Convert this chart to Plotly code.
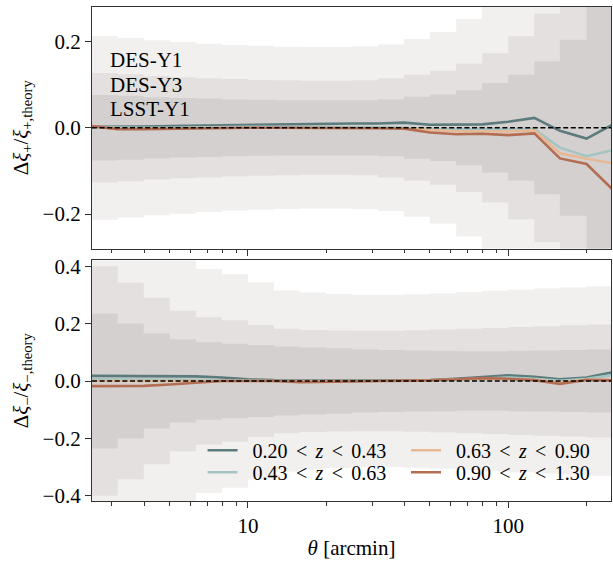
import plotly.graph_objects as go

# angular bin edges / points [arcmin]
theta = [2.51, 3.16, 3.98, 5.01, 6.31, 7.94, 10.0, 12.6, 15.8, 20.0, 25.1,
         31.6, 39.8, 50.1, 63.1, 79.4, 100.0, 126.0, 158.0, 200.0, 251.0]

# half-widths of the error bands per angular bin (20 bins) - xi_plus
des_y1_plus = [0.213, 0.208, 0.203, 0.199, 0.195, 0.192, 0.190, 0.188, 0.187, 0.187,
               0.189, 0.193, 0.206, 0.222, 0.252, 0.30, 0.36, 0.45, 0.55, 0.70]
des_y3_plus = [0.127, 0.124, 0.120, 0.117, 0.115, 0.113, 0.111, 0.110, 0.109, 0.109,
               0.110, 0.115, 0.123, 0.132, 0.149, 0.173, 0.212, 0.265, 0.32, 0.42]
lsst_y1_plus = [0.076, 0.074, 0.071, 0.069, 0.068, 0.066, 0.065, 0.064, 0.064, 0.064,
                0.064, 0.066, 0.072, 0.077, 0.087, 0.104, 0.123, 0.154, 0.204, 0.30]

# xi_minus
des_y1_minus = [0.60, 0.52, 0.47, 0.43, 0.39, 0.372, 0.343, 0.315, 0.308, 0.303,
                0.300, 0.300, 0.302, 0.305, 0.310, 0.314, 0.318, 0.322, 0.326, 0.330]
des_y3_minus = [0.40, 0.342, 0.29, 0.245, 0.222, 0.212, 0.195, 0.182, 0.178, 0.176,
                0.175, 0.175, 0.177, 0.179, 0.182, 0.185, 0.188, 0.191, 0.194, 0.197]
lsst_y1_minus = [0.235, 0.20, 0.166, 0.145, 0.135, 0.130, 0.125, 0.120, 0.117, 0.114,
                 0.111, 0.108, 0.106, 0.105, 0.104, 0.104, 0.105, 0.106, 0.108, 0.110]

# fractional residuals, xi_plus
xp_z1 = [0.002, 0.002, 0.003, 0.004, 0.005, 0.006, 0.007, 0.008, 0.009, 0.010, 0.010,
         0.010, 0.012, 0.007, 0.007, 0.008, 0.014, 0.023, -0.007, -0.025, 0.007]
xp_z2 = [0.001, 0.0, 0.0, 0.0, 0.001, 0.001, 0.002, 0.002, 0.002, 0.002, 0.002,
         0.001, 0.0, -0.003, -0.004, -0.003, -0.004, -0.003, -0.046, -0.066, -0.052]
xp_z3 = [0.002, -0.002, -0.002, -0.001, 0.0, 0.0, 0.0, 0.0, 0.0, 0.0, 0.0,
         0.0, -0.001, -0.005, -0.008, -0.008, -0.008, -0.006, -0.059, -0.072, -0.082]
xp_z4 = [0.004, -0.003, -0.003, -0.002, -0.001, -0.001, 0.0, 0.0, 0.0, 0.0, 0.0,
         -0.001, -0.002, -0.011, -0.015, -0.014, -0.017, -0.013, -0.071, -0.084, -0.142]

# xi_minus
xm_z1 = [0.018, 0.018, 0.018, 0.017, 0.016, 0.012, 0.006, 0.003, 0.002, 0.002, 0.002,
         0.002, 0.002, 0.003, 0.008, 0.014, 0.020, 0.015, 0.006, 0.012, 0.030]
xm_z2 = [0.006, 0.006, 0.006, 0.006, 0.004, 0.002, 0.0, 0.0, 0.0, 0.0, 0.0,
         0.0, 0.0, 0.001, 0.004, 0.008, 0.012, 0.008, 0.001, 0.008, 0.020]
xm_z3 = [0.0, 0.0, 0.0, 0.0, 0.0, 0.0, 0.0, 0.0, -0.002, -0.002, 0.0,
         0.0, 0.0, 0.002, 0.006, 0.008, 0.006, 0.004, -0.004, 0.004, 0.005]
xm_z4 = [-0.018, -0.018, -0.017, -0.012, -0.005, 0.0, 0.0, 0.0, -0.004, -0.004, -0.002,
         0.0, 0.0, 0.002, 0.006, 0.010, 0.008, 0.003, -0.010, 0.004, 0.002]

labels = ["0.20 < z < 0.43", "0.43 < z < 0.63", "0.63 < z < 0.90", "0.90 < z < 1.30"]
surveys = ["DES-Y1", "DES-Y3", "LSST-Y1"]

colors = ["#5b7b7d", "#a2c5c3", "#e6b994", "#b36d52"]
band_colors = ["#f2f0ef", "#e3e0df", "#d5d0d0"]
# one legend box per entry, arranged in 2 columns x 2 rows
legend_ids = ["legend", "legend2", "legend3", "legend4"]
legend_x = [0.213, 0.213, 0.605, 0.605]
legend_y = [(501 - 450) / 497, (501 - 472) / 497, (501 - 450) / 497, (501 - 472) / 497]

FONT = "Liberation Serif, Times New Roman, serif"

fig = go.Figure()


def add_bands(halfs, xa, ya):
    for h, c in zip(halfs, band_colors):
        up = list(h) + [h[-1]]
        lo = [-v for v in up]
        fig.add_trace(go.Scatter(x=theta, y=up, mode="lines", line=dict(width=0, shape="hv"),
                                 showlegend=False, hoverinfo="skip", xaxis=xa, yaxis=ya))
        fig.add_trace(go.Scatter(x=theta, y=lo, mode="lines", line=dict(width=0, shape="hv"),
                                 fill="tonexty", fillcolor=c, showlegend=False,
                                 hoverinfo="skip", xaxis=xa, yaxis=ya))


def legend_label(s):
    parts = s.split(" < ")
    sp = " \u2006&lt;\u2006 "
    return "\u2002" + parts[0] + sp + "<i>z</i>" + sp + parts[2]


add_bands([des_y1_plus, des_y3_plus, lsst_y1_plus], "x", "y")
for ys, c in zip([xp_z1, xp_z2, xp_z3, xp_z4], colors):
    fig.add_trace(go.Scatter(x=theta, y=ys, mode="lines", line=dict(color=c, width=2.6),
                             showlegend=False, xaxis="x", yaxis="y"))

add_bands([des_y1_minus, des_y3_minus, lsst_y1_minus], "x2", "y2")
for ys, c, lab, lg in zip([xm_z1, xm_z2, xm_z3, xm_z4], colors, labels, legend_ids):
    fig.add_trace(go.Scatter(x=theta, y=ys, mode="lines", line=dict(color=c, width=2.6),
                             name=legend_label(lab), legend=lg,
                             showlegend=True, xaxis="x2", yaxis="y2"))

# zero reference lines
for yr, xr in [("y", "x domain"), ("y2", "x2 domain")]:
    fig.add_shape(type="line", xref=xr, yref=yr, x0=0, x1=1, y0=0, y1=0,
                  line=dict(color="black", width=1.5, dash="5px,2.6px"), layer="above")

minor_vals = [3, 4, 5, 6, 7, 8, 9, 20, 30, 40, 50, 60, 70, 80, 90, 200]
LINE = "#333333"
xcommon = dict(type="log", range=[0.401, 2.395], showgrid=False, zeroline=False,
               showline=True, linecolor=LINE, linewidth=1.3, mirror=True,
               ticks="outside", ticklen=6, tickwidth=1.1, tickcolor=LINE,
               tickmode="array", tickvals=[10, 100], ticktext=["10", "100"],
               minor=dict(tickmode="array", tickvals=minor_vals, ticks="outside",
                          ticklen=3.5, tickwidth=0.9, tickcolor=LINE),
               tickfont=dict(family=FONT, size=21, color="black"))
ycommon = dict(showgrid=False, zeroline=False, showline=True, linecolor=LINE,
               linewidth=1.3, mirror=True, ticks="outside", ticklen=6, tickwidth=1.1,
               tickcolor=LINE, tickformat=".1f",
               tickfont=dict(family=FONT, size=21, color="black"))

layout_legends = {}
for lg, lx, ly in zip(legend_ids, legend_x, legend_y):
    layout_legends[lg] = dict(orientation="v", x=lx, xanchor="left", y=ly,
                              yanchor="middle", xref="paper", yref="paper",
                              bgcolor="rgba(0,0,0,0)", itemwidth=30,
                              font=dict(family=FONT, size=20, color="black"))

fig.update_layout(
    width=613, height=567,
    margin=dict(l=92, r=1, t=4, b=66),
    paper_bgcolor="white", plot_bgcolor="white",
    font=dict(family=FONT, size=21, color="black"),
    xaxis=dict(xcommon, anchor="y", domain=[0, 1], showticklabels=False, matches="x2"),
    xaxis2=dict(xcommon, anchor="y2", domain=[0, 1],
                title=dict(text="<i>θ</i> [arcmin]", font=dict(family=FONT, size=21),
                           standoff=2)),
    yaxis=dict(ycommon, domain=[0.511, 1.0], range=[-0.28, 0.28], anchor="x",
               tickvals=[-0.2, 0.0, 0.2],
               title=dict(text="Δ<i>ξ</i><sub>+</sub>/<i>ξ</i><sub>+,theory</sub>",
                          font=dict(family=FONT, size=21), standoff=8)),
    yaxis2=dict(ycommon, domain=[0.0, 0.487], range=[-0.418, 0.42], anchor="x2",
                tickvals=[-0.4, -0.2, 0.0, 0.2, 0.4],
                title=dict(text="Δ<i>ξ</i><sub>−</sub>/<i>ξ</i><sub>−,theory</sub>",
                           font=dict(family=FONT, size=21), standoff=8)),
    showlegend=True,
    **layout_legends,
)

for i, s in enumerate(surveys):
    fig.add_annotation(text=s, xref="x domain", yref="y domain", x=0.031,
                       y=[0.782, 0.679, 0.576][i], xanchor="left", yanchor="middle",
                       showarrow=False, font=dict(family=FONT, size=21, color="black"))

fig.write_html("out.html")
